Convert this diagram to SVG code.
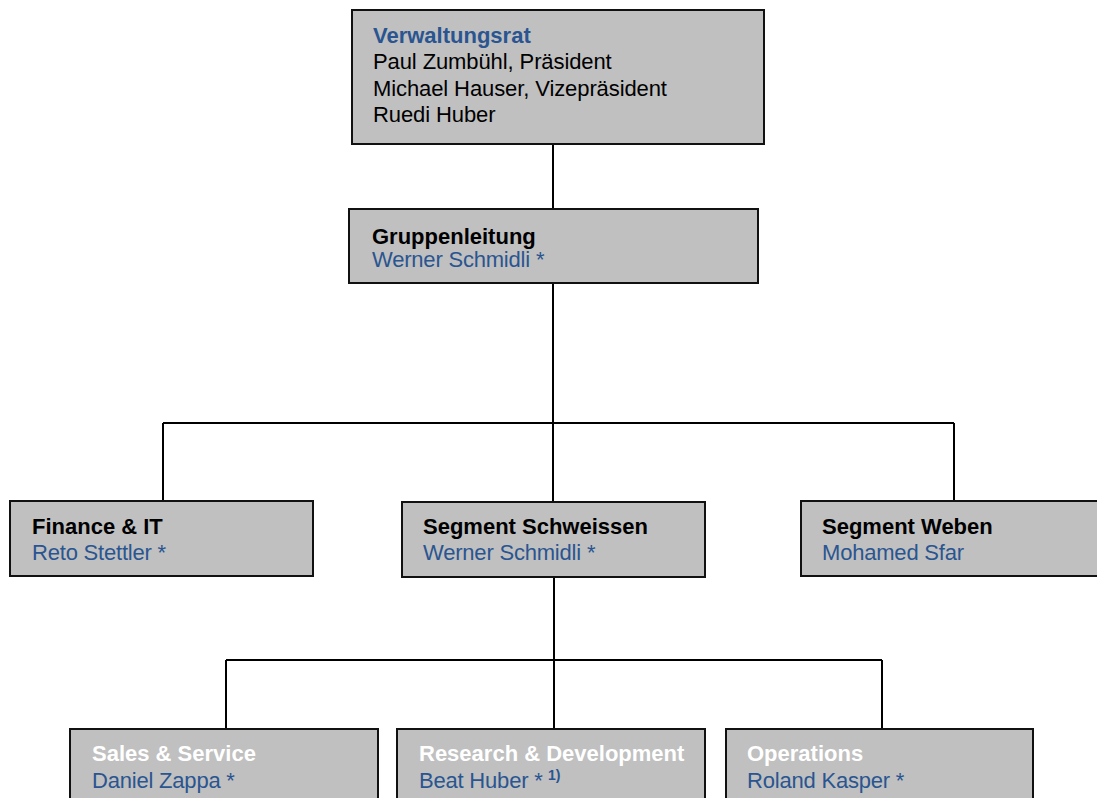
<svg xmlns="http://www.w3.org/2000/svg" width="1097" height="798" viewBox="0 0 1097 798">
<style>
.box{fill:#c0c0c0;stroke:#111;stroke-width:2}
.t{font-family:"Liberation Sans",Arial,sans-serif;font-size:22px}
.h{font-weight:bold;fill:#000}
.hw{font-weight:bold;fill:#fff}
.hb{font-weight:bold;fill:#2a5590}
.n{fill:#2a5590;letter-spacing:-0.2px}
.k{fill:#000;letter-spacing:-0.1px}
.sup{font-family:"Liberation Sans",Arial,sans-serif;font-size:14px;font-weight:bold;fill:#2a5590}
.c{fill:none;stroke:#000;stroke-width:2}
</style>
<rect width="1097" height="798" fill="#fff"/>
<g id="connectors">
<path class="c" d="M553,144 V209 M553,283 V501 M163,423 H954 M163,423 V501 M954,423 V501"/>
<path class="c" d="M554,577 V729 M226,660 H882 M226,660 V729 M882,660 V729"/>
</g>
<g id="verwaltungsrat">
<rect class="box" x="352" y="10" width="412" height="134"/>
<text class="t hb" x="373" y="43">Verwaltungsrat</text>
<text class="t k" x="373" y="69">Paul Zumbühl, Präsident</text>
<text class="t k" x="373" y="96">Michael Hauser, Vizepräsident</text>
<text class="t k" x="373" y="122">Ruedi Huber</text>
</g>
<g id="gruppenleitung">
<rect class="box" x="349" y="209" width="409" height="74"/>
<text class="t h" x="372" y="244">Gruppenleitung</text>
<text class="t n" x="372" y="267">Werner Schmidli *</text>
</g>
<g id="finance">
<rect class="box" x="10" y="501" width="303" height="75"/>
<text class="t h" x="32" y="534">Finance &amp; IT</text>
<text class="t n" x="32" y="560">Reto Stettler *</text>
</g>
<g id="schweissen">
<rect class="box" x="402" y="502" width="303" height="75"/>
<text class="t h" x="423" y="534">Segment Schweissen</text>
<text class="t n" x="423" y="560">Werner Schmidli *</text>
</g>
<g id="weben">
<rect class="box" x="801" y="501" width="310" height="75"/>
<text class="t h" x="822" y="534">Segment Weben</text>
<text class="t n" x="822" y="560">Mohamed Sfar</text>
</g>
<g id="sales">
<rect class="box" x="70" y="729" width="308" height="100"/>
<text class="t hw" x="92" y="761">Sales &amp; Service</text>
<text class="t n" x="92" y="788">Daniel Zappa *</text>
</g>
<g id="research">
<rect class="box" x="397" y="729" width="308" height="100"/>
<text class="t hw" x="419" y="761">Research &amp; Development</text>
<text class="t n" x="419" y="788">Beat Huber *</text>
<text class="sup" x="548" y="780">1)</text>
</g>
<g id="operations">
<rect class="box" x="726" y="729" width="307" height="100"/>
<text class="t hw" x="747" y="761">Operations</text>
<text class="t n" x="747" y="788">Roland Kasper *</text>
</g>
</svg>
